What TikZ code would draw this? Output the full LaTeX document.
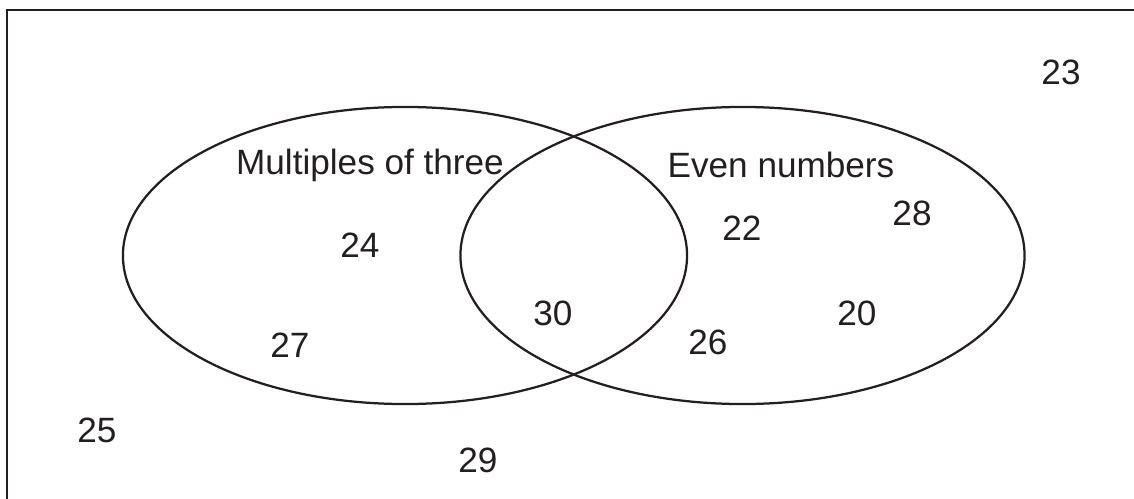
\documentclass[tikz,border=0pt]{standalone}
\usepackage{fontspec}
\setsansfont{Liberation Sans}
\usepackage{tikz}
\usetikzlibrary{positioning, calc}
\definecolor{vennblack}{RGB}{35, 31, 32}

\begin{document}
\begin{tikzpicture}[
    x=0.025cm, y=-0.025cm,
    label/.style={inner sep=0pt, text=vennblack, font=\fontsize{25pt}{29pt}\selectfont\sffamily},
    setline/.style={draw=vennblack, line width=1.6pt}
]
    \useasboundingbox (0, 0) rectangle (1134, 499);

    % --- FRAME (cut off at right and bottom) ---
    \coordinate (fbl) at (7, 499);
    \coordinate (ftl) at (7, 10);
    \coordinate (ftr) at (1134, 10);
    \draw[vennblack, line width=2pt] (fbl) -- (ftl) -- (ftr);

    % --- SETS ---
    \draw[setline] (405, 255.5) ellipse [x radius=7.05cm, y radius=3.7125cm];
    \draw[setline] (742.5, 255.5) ellipse [x radius=7.05cm, y radius=3.7125cm];

    \node[label] (three) at (370, 165) {Multiples of three};
    \node[label] (even) at (781, 165) {Even numbers};

    % --- NUMBERS ---
    \node[label] (n24) at (360, 245) {24};
    \node[label] (n27) at (290, 345) {27};
    \node[label] (n30) at (553, 313) {30};
    \node[label] (n22) at (742, 228) {22};
    \node[label] (n28) at (912, 213) {28};
    \node[label] (n20) at (857, 313) {20};
    \node[label] (n26) at (708, 342) {26};
    \node[label] (n23) at (1061, 72) {23};
    \node[label] (n25) at (97, 430) {25};
    \node[label] (n29) at (478, 460) {29};

\end{tikzpicture}
\end{document}
